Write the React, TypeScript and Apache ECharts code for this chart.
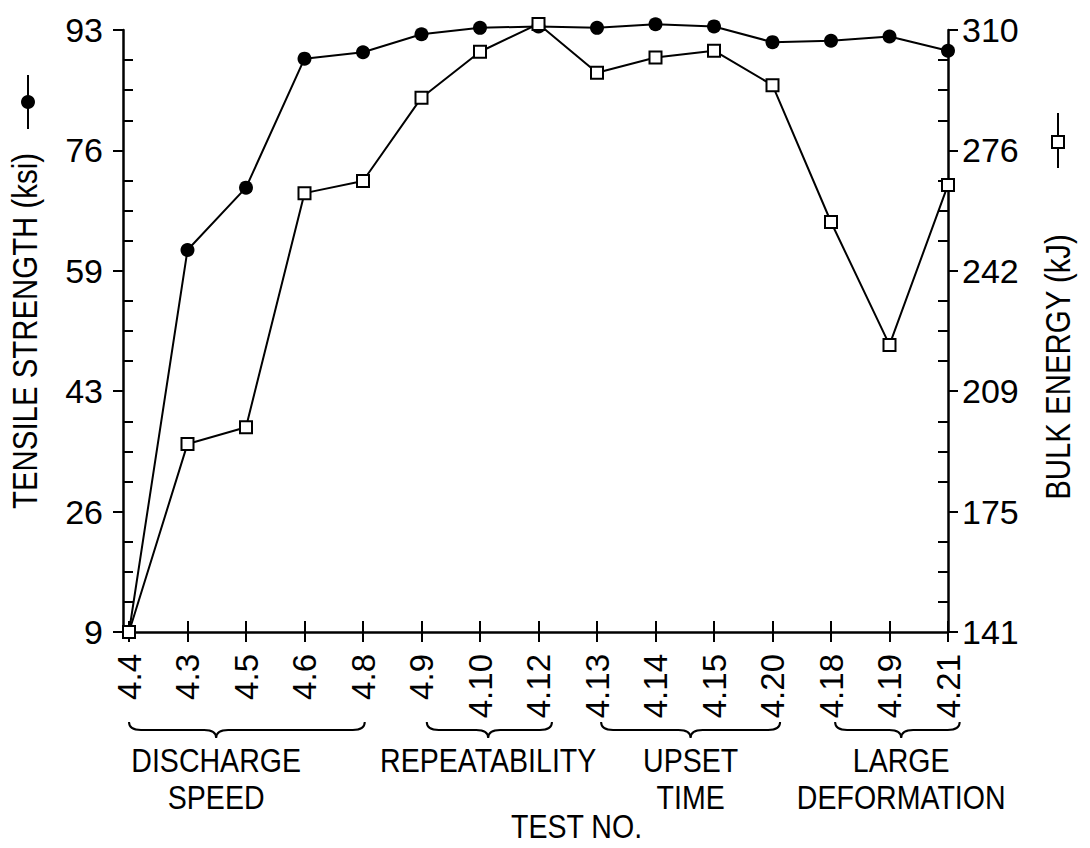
import React, { useEffect, useRef } from 'react';
import * as echarts from 'echarts';

// Test numbers along the x axis, in test order
const categories = ['4.4', '4.3', '4.5', '4.6', '4.8', '4.9', '4.10', '4.12', '4.13', '4.14', '4.15', '4.20', '4.18', '4.19', '4.21'];

// Tensile strength (ksi), left axis
const tensileStrength = [9, 62.3, 71.0, 89.0, 89.9, 92.4, 93.3, 93.5, 93.3, 93.8, 93.5, 91.3, 91.5, 92.1, 90.1];

// Bulk energy (kJ), right axis
const bulkEnergy = [141, 193.8, 198.5, 264.2, 267.6, 291.0, 303.9, 311.7, 298.0, 302.3, 304.2, 294.5, 256.1, 221.6, 266.5];

// Printed tick labels of both value axes (evenly spaced between first and last)
const tensileTicks = [9, 26, 43, 59, 76, 93];
const energyTicks = [141, 175, 209, 242, 276, 310];

// Test groups bracketed under the x axis (positions in category-index units)
const testGroups = [
  { lines: ['DISCHARGE', 'SPEED'], from: 0, to: 4.03, tip: 1.49 },
  { lines: ['REPEATABILITY'], from: 5.09, to: 7.23, tip: 6.14 },
  { lines: ['UPSET', 'TIME'], from: 8.07, to: 11.13, tip: 9.6 },
  { lines: ['LARGE', 'DEFORMATION'], from: 12.07, to: 14.2, tip: 13.2 },
];

const FONT = "'Liberation Sans', Arial, Helvetica, sans-serif";
const INK = '#000';
// horizontal squeeze that gives the regular face a condensed look
const NARROW = 0.84;

function evenSteps(ticks: number[], parts: number): number[] {
  const a = ticks[0];
  const b = ticks[ticks.length - 1];
  return Array.from({ length: parts + 1 }, (_, k) => a + ((b - a) * k) / parts);
}

function valueAxes(ticks: number[], position: 'left' | 'right', offset: number, margin: number) {
  const n = ticks.length - 1;
  const major = evenSteps(ticks, n);
  const minor = evenSteps(ticks, n * 4).filter((_, k) => k % 4 !== 0);
  const min = ticks[0];
  const max = ticks[n];
  const label = (v: number) => String(ticks[Math.round(((v - min) / (max - min)) * n)]);
  return [
    {
      type: 'value',
      position,
      offset,
      min,
      max,
      axisLine: { show: true, lineStyle: { color: INK, width: 2.5 } },
      axisTick: { show: true, customValues: major, length: 10, lineStyle: { color: INK, width: 2 } },
      axisLabel: { customValues: major, formatter: label, margin, color: INK, fontSize: 34, fontFamily: FONT },
      splitLine: { show: false },
    },
    {
      type: 'value',
      position,
      offset,
      min,
      max,
      axisLine: { show: false },
      axisTick: { show: true, inside: true, customValues: minor, length: 10, lineStyle: { color: INK, width: 2 } },
      axisLabel: { show: false },
      splitLine: { show: false },
    },
  ];
}

function bracePath(a: number, b: number, t: number, y0: number, y1: number): string {
  const ym = (y0 + y1) / 2;
  const r = 12;
  return [
    `M${a},${y0}`,
    `Q${a},${ym} ${a + r},${ym}`,
    `L${t - r},${ym}`,
    `Q${t},${ym} ${t},${y1}`,
    `Q${t},${ym} ${t + r},${ym}`,
    `L${b - r},${ym}`,
    `Q${b},${ym} ${b},${y0}`,
  ].join(' ');
}

export default function App() {
  const ref = useRef<HTMLDivElement>(null);

  useEffect(() => {
    if (!ref.current) return;
    const chart = echarts.init(ref.current, null, { renderer: 'svg' });

    const option: any = {
      animation: false,
      backgroundColor: '#fff',
      grid: { left: 129, right: 142, top: 30, bottom: 216, containLabel: false },
      xAxis: [
        {
          type: 'category',
          data: categories,
          boundaryGap: false,
          position: 'bottom',
          axisLine: { show: true, lineStyle: { color: INK, width: 2.5 } },
          axisTick: { show: true, interval: 0, length: 10, lineStyle: { color: INK, width: 2 } },
          axisLabel: { interval: 0, rotate: 90, margin: 22, color: INK, fontSize: 33, fontFamily: FONT },
        },
        {
          type: 'category',
          data: categories,
          boundaryGap: false,
          position: 'bottom',
          axisLine: { show: false },
          axisTick: { show: true, inside: true, interval: 0, length: 11, lineStyle: { color: INK, width: 2 } },
          axisLabel: { show: false },
        },
      ],
      yAxis: [...valueAxes(tensileTicks, 'left', 6, 20), ...valueAxes(energyTicks, 'right', 0, 14)],
      series: [
        {
          name: 'Tensile strength',
          type: 'line',
          xAxisIndex: 0,
          yAxisIndex: 0,
          data: tensileStrength,
          clip: false,
          symbol: 'circle',
          symbolSize: 14,
          itemStyle: { color: INK },
          lineStyle: { color: INK, width: 2 },
          z: 2,
        },
        {
          name: 'Bulk energy',
          type: 'line',
          xAxisIndex: 0,
          yAxisIndex: 2,
          data: bulkEnergy,
          clip: false,
          symbol: 'rect',
          symbolSize: 12,
          itemStyle: { color: '#fff', borderColor: INK, borderWidth: 2 },
          lineStyle: { color: INK, width: 2 },
          z: 3,
        },
      ],
    };
    chart.setOption(option);

    // Annotations placed from the axes' own pixel mapping
    const x0 = chart.convertToPixel({ xAxisIndex: 0 }, categories[0]) as number;
    const xN = chart.convertToPixel({ xAxisIndex: 0 }, categories[categories.length - 1]) as number;
    const px = (i: number) => x0 + ((xN - x0) * i) / (categories.length - 1);
    const yBase = chart.convertToPixel({ yAxisIndex: 0 }, tensileTicks[0]) as number;
    const yTop = chart.convertToPixel({ yAxisIndex: 0 }, tensileTicks[tensileTicks.length - 1]) as number;
    const yMid = (yBase + yTop) / 2;

    const textStyle = (text: string, fontSize: number, vAlign: string) => ({
      text,
      fill: INK,
      fontSize,
      fontFamily: FONT,
      align: 'center',
      textAlign: 'center',
      verticalAlign: vAlign,
      textVerticalAlign: vAlign,
    });

    const graphics: any[] = [];

    // short stretch of the x axis line between the offset left axis and the first category
    graphics.push({
      type: 'line',
      shape: { x1: x0 - 6, y1: yBase, x2: x0, y2: yBase },
      style: { stroke: INK, lineWidth: 2.5 },
    });

    testGroups.forEach((g, i) => {
      const name = `testGroupBrace${i}`;
      echarts.graphic.registerShape(
        name,
        (echarts.graphic as any).extendPath(bracePath(px(g.from), px(g.to), px(g.tip), yBase + 90, yBase + 106), {})
      );
      graphics.push({
        type: name,
        x: 0,
        y: 0,
        style: { stroke: INK, lineWidth: 2, fill: 'none' },
      });
      g.lines.forEach((line, k) => {
        graphics.push({
          type: 'text',
          x: px(g.tip),
          y: yBase + 112 + k * 37,
          scaleX: NARROW,
          style: textStyle(line, 34, 'top'),
        });
      });
    });

    graphics.push({
      type: 'text',
      x: px(7.65),
      y: yBase + 178,
      scaleX: NARROW,
      style: textStyle('TEST NO.', 34, 'top'),
    });

    // Axis titles with their series key marks
    graphics.push({
      type: 'text',
      x: 25,
      y: yMid,
      rotation: Math.PI / 2,
      scaleX: NARROW,
      style: textStyle('TENSILE STRENGTH (ksi)', 35, 'middle'),
    });
    graphics.push({ type: 'line', shape: { x1: 28, y1: 75, x2: 28, y2: 129 }, style: { stroke: INK, lineWidth: 2 } });
    graphics.push({ type: 'circle', shape: { cx: 28, cy: 102, r: 7 }, style: { fill: INK } });

    graphics.push({
      type: 'text',
      x: 1058,
      y: yMid + 36,
      rotation: Math.PI / 2,
      scaleX: NARROW,
      style: textStyle('BULK ENERGY (kJ)', 35, 'middle'),
    });
    graphics.push({ type: 'line', shape: { x1: 1058, y1: 113, x2: 1058, y2: 168 }, style: { stroke: INK, lineWidth: 2 } });
    graphics.push({
      type: 'rect',
      shape: { x: 1052, y: 136, width: 12, height: 12 },
      style: { fill: '#fff', stroke: INK, lineWidth: 2 },
    });

    chart.setOption({ graphic: graphics });

    return () => chart.dispose();
  }, []);

  return (
    <div
      ref={ref}
      style={{ position: 'fixed', left: 0, top: 0, width: 1090, height: 848, background: '#fff' }}
    />
  );
}
